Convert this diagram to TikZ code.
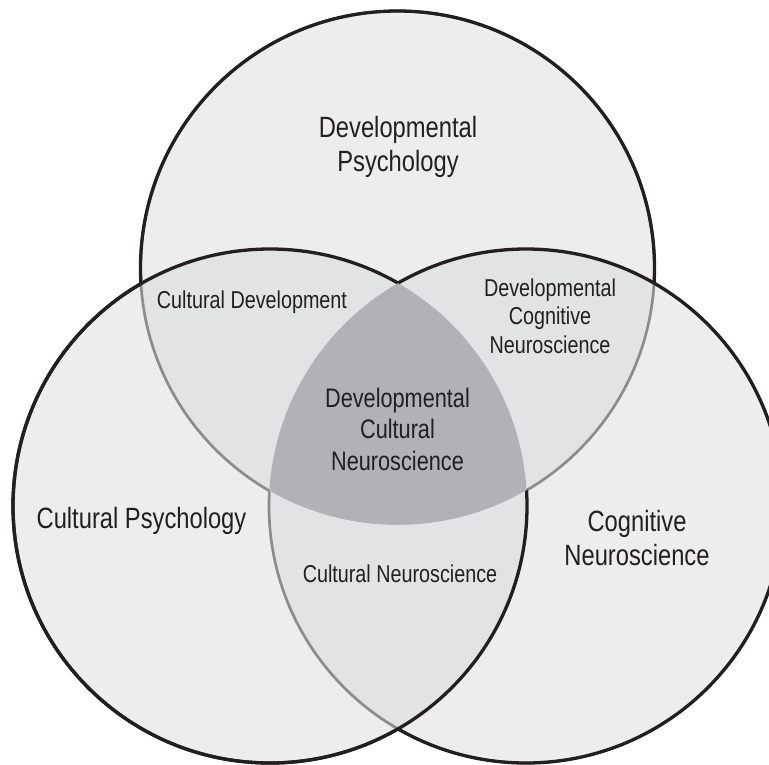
\documentclass[tikz,border=0pt]{standalone}
\usepackage{fontspec}
\setmainfont{Liberation Sans}[FakeStretch=0.81]

\definecolor{ink}{HTML}{231F20}
\definecolor{rim}{HTML}{8C8C8C}
\definecolor{vennone}{HTML}{EDEDED}
\definecolor{venntwo}{HTML}{E2E3E5}
\definecolor{vennthree}{HTML}{B1B2B5}

\newcommand{\rad}{257pt}
\newcommand{\outside}[1]{\clip (-50,-50) rectangle (850,850) (#1) circle (\rad);}

\begin{document}
\begin{tikzpicture}[x=1pt,y=-1pt,
	outer/.style={draw=ink,line width=3.3pt},
	inner/.style={draw=rim,line width=2.7pt},
	label/.style={text=ink,align=center,inner sep=0pt,anchor=base},
	big/.style={label,font=\fontsize{29.3}{33.5}\selectfont},
	mid/.style={label,font=\fontsize{26.8}{31.5}\selectfont},
	small/.style={label,font=\fontsize{24.4}{28.5}\selectfont}]
	\useasboundingbox (0,0) rectangle (769,764);
	\clip (0,0) rectangle (769,764);
	\coordinate (dev) at (397.5,268);
	\coordinate (cul) at (270,506);
	\coordinate (cog) at (526,506);

	% fills
	\foreach \c in {dev,cul,cog}
		\fill[vennone] (\c) circle (\rad);
	\begin{scope}
		\clip (dev) circle (\rad);
		\fill[venntwo] (cul) circle (\rad);
		\fill[venntwo] (cog) circle (\rad);
		\clip (cul) circle (\rad);
		\fill[vennthree] (cog) circle (\rad);
	\end{scope}
	\begin{scope}[even odd rule]
		\clip (cul) circle (\rad);
		\outside{dev}
		\fill[venntwo] (cog) circle (\rad);
	\end{scope}

	% grey rims
	\begin{scope}[even odd rule]\outside{cog}\draw[inner] (dev) circle (\rad);\end{scope}
	\begin{scope}[even odd rule]\outside{cul}\draw[inner] (dev) circle (\rad);\end{scope}
	\begin{scope}[even odd rule]\outside{dev}\draw[inner] (cog) circle (\rad);\end{scope}

	% black rims
	\begin{scope}[even odd rule]\outside{cul}\outside{cog}\draw[outer] (dev) circle (\rad);\end{scope}
	\begin{scope}[even odd rule]\outside{cul}\draw[outer] (cog) circle (\rad);\end{scope}
	\begin{scope}[even odd rule]\outside{dev}\draw[outer] (cul) circle (\rad);\end{scope}
	\begin{scope}[even odd rule]\outside{cog}\draw[outer] (cul) circle (\rad);\end{scope}

	% labels (base = last line)
	\node[big] (devpsy) at (398,171) {Developmental\\Psychology};
	\node[small] (culdev) at (252,308) {Cultural Development};
	\node[small] (devcog) at (550,353) {Developmental\\Cognitive\\Neuroscience};
	\node[mid] (devcul) at (397.5,470) {Developmental\\Cultural\\Neuroscience};
	\node[big] (culpsy) at (141.5,528) {Cultural Psychology};
	\node[big] (cogneu) at (637,565) {Cognitive\\Neuroscience};
	\node[small] (culneu) at (400,582) {Cultural Neuroscience};
\end{tikzpicture}
\end{document}
